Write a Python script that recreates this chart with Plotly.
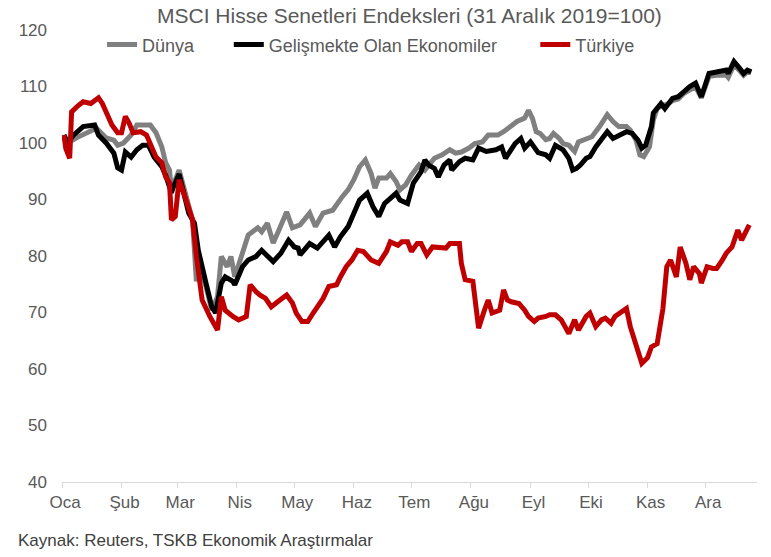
import pandas as pd
import plotly.graph_objects as go

# ---------------- data ----------------
title_text = "MSCI Hisse Senetleri Endeksleri (31 Aralık 2019=100)"
source_text = "Kaynak: Reuters, TSKB Ekonomik Araştırmalar"
series_names = ["Dünya", "Gelişmekte Olan Ekonomiler", "Türkiye"]
month_labels = ["Oca", "Şub", "Mar", "Nis", "May", "Haz", "Tem", "Ağu", "Eyl", "Eki", "Kas", "Ara"]
month_starts = ["2020-01-01", "2020-02-01", "2020-03-01", "2020-04-01", "2020-05-01", "2020-06-01",
                "2020-07-01", "2020-08-01", "2020-09-01", "2020-10-01", "2020-11-01", "2020-12-01"]
y_ticks = [40, 50, 60, 70, 80, 90, 100, 110, 120]

# day offsets from 1 Jan 2020
dunya_days = [1, 3, 8, 13, 18, 23, 27, 29, 32, 36, 39, 46, 49, 52, 54, 56, 57, 61, 64, 68, 70, 71, 75, 78,
              81, 83, 86, 88, 90, 93, 97, 102, 104, 107, 110, 113, 117, 120, 124, 129, 132, 136, 141, 146,
              149, 152, 155, 158, 161, 163, 165, 169, 171, 174, 176, 179, 182, 186, 189, 194, 198, 202, 205,
              208, 212, 215, 219, 222, 227, 230, 234, 237, 241, 243, 245, 247, 249, 252, 254, 256, 259, 261,
              264, 267, 269, 273, 276, 280, 284, 287, 290, 294, 296, 299, 301, 303, 306, 308, 310, 313, 315,
              318, 321, 324, 327, 330, 333, 337, 341, 346, 347, 350, 353, 355, 357, 359]
dunya = [101.4, 100.0, 101.0, 101.8, 102.6, 100.9, 100.5, 99.6, 100.0, 101.4, 103.2, 103.2, 101.8, 99.3,
         96.5, 95.2, 91.7, 95.2, 91.2, 86.4, 75.5, 79.3, 74.6, 70.4, 72.8, 79.9, 78.1, 79.9, 76.3, 79.3,
         83.7, 85.0, 84.3, 85.8, 82.3, 84.6, 87.8, 85.0, 85.5, 87.6, 85.2, 87.6, 88.1, 90.5, 91.7, 93.5,
         95.8, 97.0, 94.6, 92.0, 93.8, 93.8, 94.6, 93.2, 91.7, 92.6, 94.3, 96.1, 95.2, 97.3, 97.9, 98.8,
         98.2, 98.4, 99.1, 99.9, 100.2, 101.4, 101.4, 102.0, 102.9, 103.8, 104.4, 105.8, 104.4, 102.0,
         101.7, 100.6, 100.8, 101.7, 100.8, 99.9, 99.6, 98.5, 100.2, 100.8, 101.1, 102.9, 105.0, 103.8,
         102.9, 102.9, 102.3, 100.5, 97.9, 97.6, 99.3, 104.1, 106.1, 106.7, 106.8, 107.5, 107.8, 108.8,
         109.5, 110.0, 108.0, 111.8, 112.0, 112.0, 111.6, 113.8, 112.8, 112.0, 112.6, 112.4]

gelismekte_days = [1, 3, 6, 11, 17, 19, 23, 27, 29, 31, 33, 36, 39, 42, 45, 48, 52, 54, 57, 58, 61, 66, 69,
                   71, 75, 78, 80, 83, 85, 89, 90, 94, 97, 101, 104, 107, 110, 114, 118, 121, 123, 124, 129,
                   133, 136, 139, 142, 145, 149, 152, 155, 159, 162, 165, 168, 170, 174, 176, 180, 183, 187,
                   189, 191, 194, 196, 199, 202, 203, 207, 210, 214, 217, 221, 226, 229, 231, 234, 236, 239,
                   241, 244, 246, 248, 252, 254, 257, 261, 264, 266, 268, 270, 273, 275, 278, 281, 284, 287,
                   290, 294, 297, 300, 302, 304, 307, 308, 312, 314, 318, 321, 324, 327, 330, 333, 337, 341,
                   346, 347, 350, 353, 355, 357, 359]
gelismekte = [101.4, 100.0, 101.4, 102.9, 103.2, 101.4, 100.0, 98.2, 95.6, 95.2, 98.4, 97.5, 98.8, 99.6,
              99.6, 97.5, 95.8, 94.3, 91.2, 92.2, 94.5, 87.6, 85.8, 81.0, 75.2, 71.0, 69.9, 75.2, 76.3,
              75.5, 74.9, 78.1, 79.3, 79.9, 81.0, 79.9, 79.0, 80.5, 82.8, 81.6, 81.4, 80.2, 82.2, 81.4,
              82.5, 83.7, 81.6, 83.4, 85.2, 87.8, 89.9, 91.1, 88.7, 87.0, 89.3, 89.9, 91.1, 89.9, 89.3,
              92.9, 94.9, 97.0, 96.1, 95.5, 94.0, 96.1, 97.0, 95.2, 96.7, 97.3, 97.0, 99.1, 98.5, 98.8,
              99.3, 97.3, 99.1, 99.9, 100.8, 99.1, 100.2, 99.3, 98.3, 97.9, 97.3, 99.6, 98.8, 97.3, 95.2,
              95.5, 96.1, 97.3, 97.6, 99.3, 100.8, 102.0, 100.8, 101.4, 102.0, 101.7, 100.5, 99.1, 99.6,
              102.9, 105.3, 107.0, 106.1, 107.9, 108.2, 109.1, 110.0, 110.6, 108.2, 112.3, 112.6, 112.9,
              112.3, 114.4, 113.2, 112.3, 112.9, 112.6]

turkiye_days = [1, 2, 4, 5, 8, 11, 15, 19, 21, 23, 26, 29, 31, 33, 35, 37, 41, 44, 46, 49, 52, 54, 56, 57,
                59, 61, 64, 68, 70, 73, 77, 81, 83, 85, 89, 92, 96, 98, 101, 103, 106, 109, 112, 115, 117,
                120, 122, 125, 128, 131, 136, 139, 143, 145, 148, 151, 154, 157, 161, 165, 169, 171, 175,
                177, 180, 182, 185, 187, 190, 193, 196, 200, 202, 207, 208, 210, 214, 215, 217, 220, 222,
                224, 228, 230, 232, 234, 238, 241, 243, 246, 248, 252, 254, 257, 260, 262, 264, 267, 269,
                273, 275, 278, 281, 283, 286, 288, 291, 294, 296, 299, 301, 302, 305, 307, 310, 312, 313,
                315, 317, 320, 322, 325, 327, 329, 332, 333, 336, 339, 341, 344, 346, 349, 352, 354, 357, 358]
turkiye = [101.4, 99.0, 97.3, 105.5, 106.5, 107.3, 107.0, 108.0, 107.0, 105.3, 103.2, 101.8, 101.8, 104.7,
           103.5, 101.8, 102.0, 101.4, 100.0, 97.5, 96.5, 94.0, 93.0, 86.4, 87.0, 93.5, 90.5, 86.4, 79.9,
           72.2, 69.3, 66.9, 72.8, 70.4, 69.3, 68.7, 69.3, 74.9, 73.7, 73.1, 72.5, 71.0, 71.8, 72.5, 73.1,
           71.7, 69.9, 68.4, 68.4, 70.0, 72.5, 74.6, 74.9, 76.3, 78.1, 79.3, 81.0, 80.8, 79.3, 78.7, 80.8,
           82.5, 81.9, 82.5, 82.5, 80.8, 82.2, 82.2, 80.2, 81.6, 81.6, 81.4, 82.2, 82.2, 78.7, 75.8, 75.5,
           72.2, 67.2, 70.4, 72.2, 69.9, 70.4, 74.0, 72.2, 71.9, 71.6, 70.4, 69.3, 68.4, 69.0, 69.3, 69.6,
           69.6, 68.7, 67.5, 66.3, 68.7, 66.9, 69.3, 69.9, 67.5, 68.7, 69.0, 68.1, 69.3, 69.9, 70.7, 67.5,
           64.5, 62.2, 61.0, 62.0, 63.9, 64.5, 69.6, 70.7, 78.1, 79.3, 76.3, 81.6, 78.7, 75.8, 78.1, 76.9,
           75.2, 78.1, 77.8, 77.8, 79.3, 80.5, 81.6, 84.6, 82.8, 84.9, 85.5]

# ---------------- figure ----------------
FONT = "Liberation Sans, Arial, sans-serif"
GREY_TXT = "#595959"
base = pd.Timestamp("2020-01-01")


def to_dates(days):
    return [base + pd.Timedelta(days=d) for d in days]


colors = ["#808080", "#000000", "#c00000"]
legends = ["legend", "legend2", "legend3"]
legend_x = [0.0576, 0.240, 0.681]
all_days = [dunya_days, gelismekte_days, turkiye_days]
all_vals = [dunya, gelismekte, turkiye]

fig = go.Figure()
for name, d, v, c, lg in zip(series_names, all_days, all_vals, colors, legends):
    fig.add_trace(go.Scatter(x=to_dates(d), y=v, mode="lines", name=name,
                             line=dict(color=c, width=5), legend=lg))

leg_common = dict(orientation="h", yanchor="middle", y=0.967, xanchor="left",
                  bgcolor="rgba(0,0,0,0)", font=dict(family=FONT, size=18, color=GREY_TXT))

fig.update_layout(
    width=771, height=557,
    margin=dict(l=62, r=14, t=30, b=75),
    paper_bgcolor="white", plot_bgcolor="white",
    font=dict(family=FONT, size=17, color=GREY_TXT),
    showlegend=True,
    legend=dict(x=legend_x[0], **leg_common),
    legend2=dict(x=legend_x[1], **leg_common),
    legend3=dict(x=legend_x[2], **leg_common),
    xaxis=dict(type="date", range=["2020-01-01", "2020-12-28"],
               tickvals=month_starts, ticktext=month_labels,
               showgrid=False, showline=True, linecolor="#d9d9d9", linewidth=1,
               ticks="outside", ticklen=5, tickcolor="#d9d9d9", ticklabelshift=3,
               tickfont=dict(family=FONT, size=17, color=GREY_TXT), zeroline=False),
    yaxis=dict(range=[40, 120], tickvals=y_ticks, showgrid=False, showline=False,
               zeroline=False, ticks="", ticklabelstandoff=14,
               tickfont=dict(family=FONT, size=17, color=GREY_TXT)),
    annotations=[
        dict(text=title_text, xref="paper", yref="paper", x=0.5, y=1.0, yshift=15,
             xanchor="center", yanchor="middle", showarrow=False,
             font=dict(family=FONT, size=21, color=GREY_TXT)),
        dict(text=source_text, xref="paper", yref="paper", x=-0.066, y=0, yshift=-58,
             xanchor="left", yanchor="middle", showarrow=False,
             font=dict(family=FONT, size=17, color="#404040")),
    ],
)

fig.write_html("out.html", config={"displayModeBar": False},
               post_script="document.body.style.margin='0';document.body.style.overflow='hidden';")
